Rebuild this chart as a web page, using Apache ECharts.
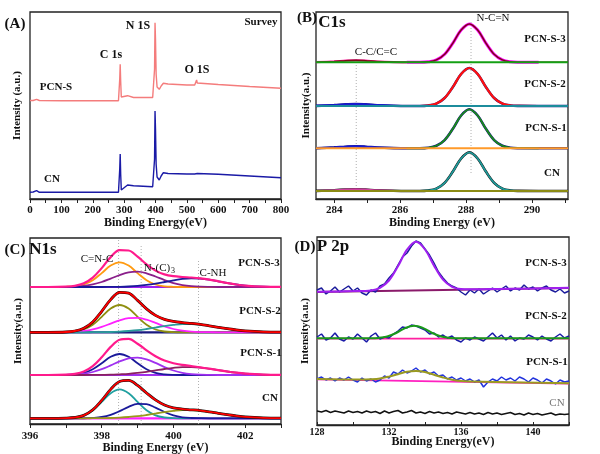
<!DOCTYPE html>
<html><head><meta charset="utf-8">
<script src="https://cdn.jsdelivr.net/npm/echarts@6/dist/echarts.min.js"></script>
<style>html,body{margin:0;padding:0;background:#fff}#c{width:600px;height:454px}</style>
</head><body><div id="c"></div>
<script>
// ---------- Panel A: survey ----------
const xSurvey = [0, 10, 21, 30, 100, 200, 282, 284, 286, 287.5, 289, 291, 297, 311, 330, 391, 395, 397, 398.5, 400, 402, 405, 412, 418, 425, 440, 500, 525, 529, 531, 533, 537, 600, 700, 800];
const surveyPCNS = [98.5, 98.5, 99.7, 98.5, 98.3, 98.3, 98.3, 99, 120, 134.7, 118, 102, 101.7, 103.3, 101.5, 101.5, 102.3, 130, 176.3, 160, 125, 112, 109.7, 113, 115.7, 115, 114, 114, 116, 119, 116, 114.5, 114.5, 112.5, 110.7];
const surveyCN = [6.7, 7, 8.3, 6.7, 6.7, 6.7, 6.7, 7.5, 30, 45, 25, 9, 10.7, 14, 13.3, 12.3, 13, 40, 88, 70, 35, 22, 19, 23, 26.3, 25.5, 25, 25, 26, 27, 25.5, 25, 24.7, 23, 21.3];
const ticksA = [0,50,100,150,200,250,300,350,400,450,500,550,600,650,700,750,800];
const labelsA = [0,100,200,300,400,500,600,700,800];

// ---------- Panel B: C1s ----------
const xC1sAll = [283.45, 284.0, 284.35, 284.65, 284.95, 285.3, 285.8, 286.2, 286.6, 286.85, 287.1, 287.35, 287.6, 287.85, 288.1, 288.35, 288.6, 288.85, 289.1, 289.35, 289.6, 290.2, 291.09];
const xC1sSmall = [283.45, 284.0, 284.35, 284.65, 284.95, 285.3, 285.8, 286.2];
const xC1sMain = [286.2, 286.6, 286.85, 287.1, 287.35, 287.6, 287.85, 288.1, 288.35, 288.6, 288.85, 289.1, 289.35, 289.6, 290.2];
const c1sBase = [136.7, 93, 50.7, 8];  // S3, S2, S1, CN
const c1sEnvS3 = [136.8, 137.6, 138.3, 138.7, 138.3, 137.5, 136.9, 136.7, 136.7, 137.2, 139.1, 144.8, 155.9, 168.9, 175.0, 168.9, 155.9, 144.8, 139.1, 137.2, 136.8, 136.7, 136.7];
const c1sEnvS2 = [93.1, 93.9, 94.6, 95.0, 94.6, 93.8, 93.2, 93.0, 93.0, 93.5, 95.4, 101.0, 112.0, 125.0, 131.0, 125.0, 112.0, 101.0, 95.4, 93.5, 93.1, 93.0, 93.0];
const c1sEnvS1 = [50.8, 51.6, 52.3, 52.7, 52.3, 51.5, 50.9, 50.7, 50.7, 51.2, 53.2, 58.9, 70.2, 83.5, 89.7, 83.5, 70.2, 58.9, 53.2, 51.2, 50.8, 50.7, 50.7];
const c1sEnvCN = [8.1, 8.8, 9.4, 9.8, 9.4, 8.7, 8.2, 8.0, 8.0, 8.5, 10.4, 16.2, 27.4, 40.5, 46.7, 40.5, 27.4, 16.2, 10.4, 8.5, 8.1, 8.0, 8.0];
const c1sSmallS3 = [136.8, 137.6, 138.3, 138.7, 138.3, 137.5, 136.9, 136.7];
const c1sSmallS2 = [93.1, 93.9, 94.6, 95.0, 94.6, 93.8, 93.2, 93.0];
const c1sSmallS1 = [50.8, 51.6, 52.3, 52.7, 52.3, 51.5, 50.9, 50.7];
const c1sSmallCN = [8.1, 8.8, 9.4, 9.8, 9.4, 8.7, 8.2, 8.0];
const c1sMainS3 = [136.7, 136.7, 137.2, 139.1, 144.8, 155.9, 168.9, 175.0, 168.9, 155.9, 144.8, 139.1, 137.2, 136.8, 136.7];
const c1sMainS2 = [93.0, 93.0, 93.5, 95.4, 101.0, 112.0, 125.0, 131.0, 125.0, 112.0, 101.0, 95.4, 93.5, 93.1, 93.0];
const c1sMainS1 = [50.7, 50.7, 51.2, 53.2, 58.9, 70.2, 83.5, 89.7, 83.5, 70.2, 58.9, 53.2, 51.2, 50.8, 50.7];
const c1sMainCN = [8.0, 8.0, 8.5, 10.4, 16.2, 27.4, 40.5, 46.7, 40.5, 27.4, 16.2, 10.4, 8.5, 8.1, 8.0];
const c1sRefLines = [284.67, 288.15];
const ticksB = [284,285,286,287,288,289,290,291];
const labelsB = [284,286,288,290];

// ---------- Panel C: N1s ----------
const xN1s = [396, 396.5, 397, 397.25, 397.5, 397.75, 398, 398.25, 398.5, 398.75, 399, 399.25, 399.5, 399.75, 400, 400.25, 400.5, 400.75, 401, 401.25, 401.5, 401.75, 402, 402.5, 403];
const n1sBase = [137, 91.7, 49, 5.7];
const n1sS3_CNC = [137, 137, 137.2, 137.7, 139.5, 143.8, 150.9, 158.4, 161.7, 158.4, 150.9, 143.8, 139.5, 137.7, 137.2, 137, 137, 137, 137, 137, 137, 137, 137, 137, 137];
const n1sS3_NC3 = [137, 137, 137.1, 137.4, 138.2, 139.6, 142.0, 145.4, 148.9, 151.6, 152.3, 150.7, 147.5, 143.9, 140.9, 138.9, 137.8, 137.3, 137.1, 137, 137, 137, 137, 137, 137];
const n1sS3_CNH = [137, 137, 137, 137, 137, 137, 137.0, 137.1, 137.2, 137.5, 138.1, 139.1, 140.4, 142.0, 143.7, 145.1, 145.7, 145.4, 144.3, 142.7, 141.0, 139.5, 138.4, 137.3, 137.05];
const n1sS3_Env = [137, 137, 137.3, 138.1, 140.7, 146.4, 155.9, 166.9, 173.8, 173.5, 167.3, 159.6, 153.4, 149.6, 147.8, 147.0, 146.5, 145.7, 144.4, 142.7, 141.0, 139.5, 138.4, 137.3, 137.05];
const n1sS2_CNC = [91.7, 91.7, 91.9, 92.5, 94.5, 99.2, 107.1, 115.4, 119.0, 115.4, 107.1, 99.2, 94.5, 92.5, 91.9, 91.7, 91.7, 91.7, 91.7, 91.7, 91.7, 91.7, 91.7, 91.7, 91.7];
const n1sS2_NC3 = [91.7, 91.7, 91.9, 92.2, 93.0, 94.6, 97.1, 100.4, 103.7, 105.9, 106.1, 104.3, 101.1, 97.7, 95.0, 93.3, 92.3, 91.9, 91.8, 91.7, 91.7, 91.7, 91.7, 91.7, 91.7];
const n1sS2_CNH = [91.7, 91.7, 91.7, 91.7, 91.7, 91.8, 91.9, 92.0, 92.4, 93.0, 93.8, 95.0, 96.4, 97.9, 99.1, 99.9, 99.9, 99.3, 98.2, 96.7, 95.3, 94.1, 93.1, 92.1, 91.8];
const n1sS2_Env = [91.7, 91.7, 92.0, 93.0, 95.8, 102.1, 112.7, 124.4, 131.7, 130.9, 123.6, 115.1, 108.6, 104.7, 102.6, 101.4, 100.6, 99.6, 98.2, 96.7, 95.3, 94.1, 93.1, 92.1, 91.8];
const n1sS1_CNC = [49, 49, 49.1, 49.6, 51.1, 54.8, 60.8, 67.2, 70.0, 67.2, 60.8, 54.8, 51.1, 49.6, 49.1, 49, 49, 49, 49, 49, 49, 49, 49, 49, 49];
const n1sS1_NC3 = [49, 49, 49.2, 49.5, 50.3, 52.0, 54.8, 58.6, 62.6, 65.7, 66.4, 64.7, 61.1, 56.9, 53.5, 51.2, 49.9, 49.3, 49.1, 49, 49, 49, 49, 49, 49];
const n1sS1_CNH = [49, 49, 49, 49, 49, 49.1, 49.2, 49.3, 49.7, 50.2, 51.1, 52.2, 53.6, 55.0, 56.2, 56.9, 56.9, 56.4, 55.2, 53.9, 52.5, 51.3, 50.4, 49.4, 49.1];
const n1sS1_Env = [49, 49, 49.3, 50.1, 52.4, 57.8, 66.7, 77.1, 84.3, 85.1, 80.3, 73.7, 67.8, 63.5, 60.8, 59.1, 57.9, 56.7, 55.3, 53.9, 52.5, 51.3, 50.4, 49.4, 49.1];
const n1sCN_CNC = [5.7, 5.7, 5.9, 6.5, 8.6, 13.7, 22.1, 30.8, 34.7, 30.8, 22.1, 13.7, 8.6, 6.5, 5.9, 5.7, 5.7, 5.7, 5.7, 5.7, 5.7, 5.7, 5.7, 5.7, 5.7];
const n1sCN_NC3 = [5.7, 5.7, 5.7, 5.7, 5.7, 6.1, 7.0, 9.2, 12.9, 17.2, 20.1, 19.8, 16.4, 12.0, 8.6, 6.7, 6.0, 5.8, 5.7, 5.7, 5.7, 5.7, 5.7, 5.7, 5.7];
const n1sCN_CNH = [5.7, 5.7, 5.7, 5.7, 5.7, 5.8, 5.9, 6.0, 6.4, 7.0, 7.8, 9.0, 10.4, 11.9, 13.1, 13.9, 13.9, 13.3, 12.2, 10.7, 9.3, 8.1, 7.1, 6.1, 5.8];
const n1sCN_Env = [5.7, 5.7, 5.9, 6.5, 8.6, 14.1, 23.6, 34.6, 42.5, 43.6, 38.6, 31.0, 24.1, 19.0, 16.2, 14.9, 14.2, 13.4, 12.2, 10.7, 9.3, 8.1, 7.1, 6.1, 5.8];
const n1sRefLines = [398.47, 399.1, 400.7];
const n1sRefTop = [186, 179, 164];
const ticksC = [396,397,398,399,400,401,402,403];
const labelsC = [396,398,400,402];

// ---------- Panel D: P 2p ----------
const xP2p = [128, 128.25, 128.5, 128.75, 129, 129.25, 129.5, 129.75, 130, 130.25, 130.5, 130.75, 131, 131.25, 131.5, 131.75, 132, 132.25, 132.5, 132.75, 133, 133.25, 133.5, 133.75, 134, 134.25, 134.5, 134.75, 135, 135.25, 135.5, 135.75, 136, 136.25, 136.5, 136.75, 137, 137.25, 137.5, 137.75, 138, 138.25, 138.5, 138.75, 139, 139.25, 139.5, 139.75, 140, 140.25, 140.5, 140.75, 141, 141.25, 141.5, 141.75, 142];
const p2pS3 = [135, 137, 131, 134, 138, 133, 136, 139, 134, 137, 132, 130, 135, 133, 139, 141, 147, 152, 160, 168, 172, 179, 184, 182, 176, 170, 162, 153, 147, 142, 139, 137, 133, 130, 135, 132, 136, 131, 134, 137, 133, 136, 139, 134, 137, 135, 140, 136, 138, 134, 137, 139, 135, 133, 136, 132, 134];
const p2pS2 = [88, 91, 85, 87, 92, 86, 84, 88, 86, 91, 87, 83, 89, 92, 86, 88, 87, 91, 94, 98, 97, 100, 99, 97, 95, 91, 92, 88, 90, 87, 89, 85, 83, 87, 85, 88, 86, 84, 88, 92, 87, 90, 85, 89, 84, 87, 86, 90, 88, 85, 89, 86, 84, 88, 91, 87, 89];
const p2pS1 = [46, 48, 45, 47, 44, 47, 45, 48, 45, 43, 47, 44, 46, 43, 45, 49, 47, 53, 51, 55, 52, 54, 57, 53, 55, 51, 53, 49, 50, 46, 48, 45, 47, 44, 46, 43, 45, 38, 43, 46, 44, 48, 45, 47, 44, 48, 46, 43, 47, 45, 42, 46, 44, 41, 45, 43, 44];
const p2pCN = [14, 13, 14.5, 12.5, 14, 13, 12, 14, 12.5, 13.5, 12, 14, 12.5, 13.5, 11.5, 14, 12, 13.5, 14.5, 12, 13, 14.5, 12, 13, 11.5, 13.5, 12, 13, 11.5, 12.5, 11, 13, 12, 11, 12.5, 11, 12, 10.5, 12.5, 11, 12, 10.5, 11.5, 12.5, 10.5, 11.5, 10, 12, 10.5, 11.5, 10, 11, 12, 10, 11, 10.5, 11];
const xFitS3 = [128, 130, 131, 131.5, 132, 132.5, 133, 133.5, 134, 134.5, 135, 135.5, 136, 137, 138, 140, 142];
const fitS3 = [133.3, 133.9, 134.6, 137.2, 144.5, 158.7, 175.3, 183.2, 175.5, 159.3, 145.3, 138.2, 136.0, 135.7, 136.1, 136.6, 137.3];
const xFitS2 = [128, 131, 131.4, 131.9, 132.4, 132.9, 133.4, 133.9, 134.4, 134.9, 135.4, 136, 142];
const fitS2 = [86.7, 86.8, 87.1, 88.5, 92.0, 96.9, 99.3, 96.9, 92.0, 88.5, 87.1, 86.75, 86.7];
const xFitS1 = [128, 130.5, 131, 131.5, 132, 132.5, 133, 133.5, 134, 134.5, 135, 135.5, 136, 136.5, 142];
const fitS1 = [46.0, 45.4, 45.7, 46.5, 48.4, 50.8, 53.2, 54.0, 52.9, 50.2, 47.5, 45.3, 44.1, 43.6, 41.7];
const xBgP2p = [128, 142];
const bgS3 = [133.0, 137.0];
const bgS2 = [86.3, 86.3];
const bgS1 = [45.6, 41.3];
const ticksD = [128,130,132,134,136,138,140,142];
const labelsD = [128,132,136,140];

// ---------- build ----------
const FF = 'Liberation Serif';
function pts(xs, ys){ return xs.map((x,i)=>[x, ys[i]]); }
function L(g, data, color, width, smooth, extra){
  return Object.assign({type:'line', xAxisIndex:g, yAxisIndex:g, data:data, showSymbol:false, symbol:'none',
    smooth: smooth ? 0.35 : false, lineStyle:{color:color, width:width}, silent:true, animation:false}, extra||{});
}
function dotted(g, x, y0, y1){
  return L(g, [[x,y0],[x,y1]], '#b0b0b0', 1, false, {lineStyle:{color:'#b0b0b0', width:1, type:[1,2]}, z:1});
}
function hline(g, xs, b, color, w){ return L(g, [[xs[0], b],[xs[xs.length-1], b]], color, w, false); }

const series = [];
// A
series.push(L(0, pts(xSurvey, surveyPCNS), '#f47c7c', 1.4, false));
series.push(L(0, pts(xSurvey, surveyCN), '#1a1aa6', 1.4, false));
// B
series.push(dotted(1, c1sRefLines[0], 7, 142));
series.push(dotted(1, c1sRefLines[1], 26, 177));
// S3
series.push(L(1, pts(xC1sSmall, c1sSmallS3), '#ff1aa0', 2.2, true));
series.push(L(1, pts(xC1sMain, c1sMainS3), '#ff00ff', 3, true));
series.push(L(1, pts(xC1sAll, c1sEnvS3), '#7a0a14', 1.5, true));
series.push(hline(1, xC1sAll, c1sBase[0], '#14a014', 2));
// S2
series.push(L(1, pts(xC1sAll, c1sEnvS2), '#1a1a80', 2.6, true));
series.push(L(1, pts(xC1sSmall, c1sSmallS2), '#1a1ad0', 2.2, true));
series.push(L(1, pts(xC1sMain, c1sMainS2), '#ff1010', 2.2, true));
series.push(hline(1, xC1sAll, c1sBase[1], '#1c8c9c', 2));
// S1
series.push(L(1, pts(xC1sAll, c1sEnvS1), '#141480', 2.6, true));
series.push(L(1, pts(xC1sSmall, c1sSmallS1), '#1a1ad0', 2, true));
series.push(L(1, pts(xC1sMain, c1sMainS1), '#1a8c1a', 1.8, true));
series.push(hline(1, xC1sAll, c1sBase[2], '#ff9a2a', 2));
// CN
series.push(L(1, pts(xC1sAll, c1sEnvCN), '#111', 2.6, true));
series.push(L(1, pts(xC1sSmall, c1sSmallCN), '#d040a0', 2, true));
series.push(L(1, pts(xC1sMain, c1sMainCN), '#1f9a9a', 1.8, true));
series.push(hline(1, xC1sAll, c1sBase[3], '#8c8c14', 2));
// C
n1sRefLines.forEach((x,i)=>series.push(dotted(2, x, 0, n1sRefTop[i])));
// S3
series.push(hline(2, xN1s, n1sBase[0], '#a020f0', 2.2));
series.push(L(2, pts(xN1s, n1sS3_CNC), '#ff9a10', 1.8, true));
series.push(L(2, pts(xN1s, n1sS3_NC3), '#8a1f8a', 1.8, true));
series.push(L(2, pts(xN1s, n1sS3_CNH), '#1a1a9a', 1.8, true));
series.push(L(2, pts(xN1s, n1sS3_Env), '#ff1a8c', 2.2, true));
// S2
series.push(hline(2, xN1s, n1sBase[1], '#1a1a80', 2.2));
series.push(L(2, pts(xN1s, n1sS2_CNC), '#8f8f10', 1.8, true));
series.push(L(2, pts(xN1s, n1sS2_NC3), '#ff20ff', 1.8, true));
series.push(L(2, pts(xN1s, n1sS2_CNH), '#2a9a9a', 1.8, true));
series.push(L(2, pts(xN1s, n1sS2_Env), '#300', 2.8, true));
series.push(L(2, pts(xN1s, n1sS2_Env), '#ff0000', 1.8, true));
// S1
series.push(hline(2, xN1s, n1sBase[2], '#ff9a2a', 2.2));
series.push(L(2, [[396, n1sBase[2]], [400.5, n1sBase[2]]], '#a030f0', 2.2, false));
series.push(L(2, pts(xN1s, n1sS1_CNC), '#1a1a9a', 1.8, true));
series.push(L(2, pts(xN1s, n1sS1_NC3), '#a030f0', 1.8, true));
series.push(L(2, pts(xN1s, n1sS1_CNH), '#8a2060', 1.8, true));
series.push(L(2, pts(xN1s, n1sS1_Env), '#ff1a8c', 2.2, true));
// CN
series.push(hline(2, xN1s, n1sBase[3], '#ff20ff', 2.2));
series.push(L(2, pts(xN1s, n1sCN_CNC), '#20a0a0', 1.8, true));
series.push(L(2, pts(xN1s, n1sCN_NC3), '#1a1a9a', 1.8, true));
series.push(L(2, pts(xN1s, n1sCN_CNH), '#9a9a1a', 1.8, true));
series.push(L(2, pts(xN1s, n1sCN_Env), '#111', 2.8, true));
series.push(L(2, pts(xN1s, n1sCN_Env), '#ff0000', 1.8, true));
// D
series.push(L(3, pts(xBgP2p, bgS3), '#8a1a6a', 1.8, false));
series.push(L(3, pts(xP2p, p2pS3), '#1c1c9c', 1.5, false));
series.push(L(3, pts(xFitS3, fitS3), '#a020f0', 2, true));
series.push(L(3, pts(xBgP2p, bgS2), '#ff20a0', 1.8, false));
series.push(L(3, pts(xP2p, p2pS2), '#1a1aa8', 1.5, false));
series.push(L(3, pts(xFitS2, fitS2), '#1a9a1a', 2, true));
series.push(L(3, pts(xBgP2p, bgS1), '#ff20c0', 1.8, false));
series.push(L(3, pts(xP2p, p2pS1), '#2233dd', 1.5, false));
series.push(L(3, pts(xFitS1, fitS1), '#9a9a20', 2, true));
series.push(L(3, pts(xP2p, p2pCN), '#111', 1.5, false));

const grids = [
  {left:30, top:12, width:251, height:187},
  {left:316, top:12, width:252, height:187},
  {left:30, top:238, width:251, height:186},
  {left:317, top:237, width:252, height:188}
].map(g => Object.assign(g, {show:true, borderColor:'#222', borderWidth:1.3, backgroundColor:'transparent', containLabel:false, outerBoundsMode:'none'}));

function xAx(g, min, max, ticks, labels, name, opt){
  opt = opt || {};
  return {type:'value', gridIndex:g, min:min, max:max,
    axisLine:{show:true, lineStyle:{color:'#222', width:1.3}},
    axisTick:{show:true, customValues:ticks, inside:!!opt.inside, length:opt.tickLen||4, lineStyle:{color:'#222'}},
    axisLabel:{show:true, customValues:labels, margin:opt.margin||6, color:'#111', fontFamily:FF, fontWeight:'bold', fontSize:opt.labelSize||11},
    splitLine:{show:false},
    name:name, nameLocation:'middle', nameGap:opt.nameGap||16, nameMoveOverlap:false,
    nameTextStyle:{fontFamily:FF, fontWeight:'bold', fontSize:opt.nameSize||12, color:'#111'}};
}
function yAx(g, max, name, gap){
  return {type:'value', gridIndex:g, min:0, max:max,
    axisLine:{show:false}, axisTick:{show:false}, axisLabel:{show:false}, splitLine:{show:false},
    name:name, nameLocation:'middle', nameGap:gap,
    nameTextStyle:{fontFamily:FF, fontWeight:'bold', fontSize:11, color:'#111'}};
}

function T(text, x, y, size, weight, color){
  return {type:'text', x:x, y:y, z:100, silent:true,
    style:{text:text, fontSize:size, fontWeight:weight||'bold', fontFamily:FF, fill:color||'#111', align:'center', verticalAlign:'middle'}};
}
const texts = [
  T('(A)', 15, 24, 15), T('Survey', 261, 22, 11), T('N 1S', 138, 26, 12), T('C 1s', 111, 55, 12),
  T('O 1S', 197, 70, 12), T('PCN-S', 56, 87, 11), T('CN', 52, 179, 11),
  T('(B)', 307, 18, 15), T('C1s', 332, 23, 17), T('N-C=N', 493, 18, 11, 'normal'), T('C-C/C=C', 376, 52, 11, 'normal'),
  T('PCN-S-3', 545, 39, 11), T('PCN-S-2', 545, 84, 11), T('PCN-S-1', 546, 128, 11), T('CN', 552, 173, 11),
  T('(C)', 15, 250, 15), T('N1s', 43, 250, 17), T('C=N-C', 97, 259, 11, 'normal'),
  T('N-(C)', 157, 268, 11, 'normal'), T('3', 173, 271, 8, 'normal'), T('C-NH', 213, 273, 11, 'normal'),
  T('PCN-S-3', 259, 263, 11), T('PCN-S-2', 260, 311, 11), T('PCN-S-1', 261, 353, 11), T('CN', 270, 398, 11),
  T('(D)', 305, 247, 15), T('P 2p', 333, 247, 17),
  T('PCN-S-3', 546, 263, 11), T('PCN-S-2', 546, 316, 11), T('PCN-S-1', 547, 362, 11), T('CN', 557, 403, 11, 'normal', '#777')
];

const chart = echarts.init(document.getElementById('c'), null, {renderer:'canvas'});
chart.setOption({
  animation:false,
  backgroundColor:'#fff',
  grid: grids,
  xAxis: [
    xAx(0, 0, 800, ticksA, labelsA, 'Binding Energy(eV)', {margin:6, nameGap:18}),
    xAx(1, 283.45, 291.09, ticksB, labelsB, 'Binding Energy (eV)', {margin:6, nameGap:18}),
    xAx(2, 396, 403, ticksC, labelsC, 'Binding Energy (eV)', {margin:7, nameGap:18}),
    xAx(3, 128, 142, ticksD, labelsD, 'Binding Energy(eV)', {margin:2, nameGap:11, inside:true, labelSize:10, tickLen:3})
  ],
  yAxis: [
    yAx(0, 187, 'Intensity (a.u.)', 7),
    yAx(1, 187, 'Intensity(a.u.)', 4),
    yAx(2, 186, 'Intensity(a.u.)', 6),
    yAx(3, 188, 'Intensity(a.u.)', 6)
  ],
  series: series,
  graphic: texts
});
</script></body></html>
